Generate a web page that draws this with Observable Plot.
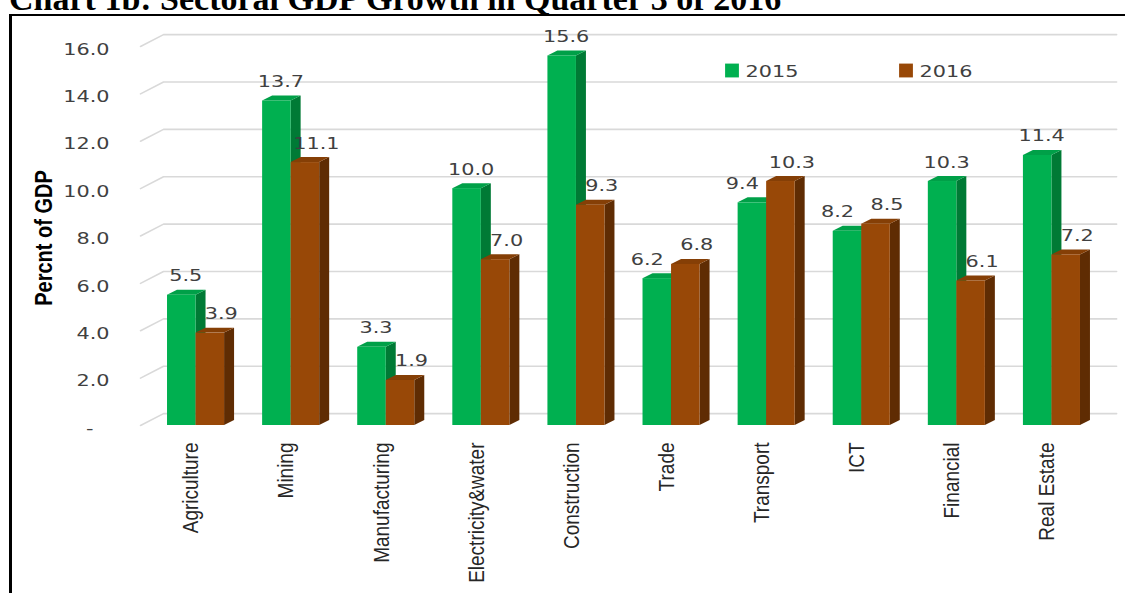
<!DOCTYPE html>
<html><head><meta charset="utf-8">
<script src="https://cdn.jsdelivr.net/npm/d3@7"></script>
<script src="https://cdn.jsdelivr.net/npm/@observablehq/plot@0.6"></script>
<style>
html,body{margin:0;padding:0;background:#fff;overflow:hidden;width:1125px;height:593px}
#title{height:14px;overflow:hidden;position:relative}
#title div{position:absolute;left:9px;top:-18px;font:bold 34px/34px "Liberation Serif","Times New Roman",serif;white-space:nowrap;color:#000}
#box{margin-left:9px;border-top:2px solid #000;border-left:3px solid #000;height:600px;width:1200px}
#box svg{display:block}
</style></head><body>
<div id="title"><div>Chart 1b: Sectoral GDP Growth in Quarter 3 of 2016</div></div>
<div id="box"></div>
<script>
const categories = ["Agriculture","Mining","Manufacturing","Electricity&water","Construction","Trade","Transport","ICT","Financial","Real Estate"];
const series = ["2015","2016"];
const values2015 = [5.5,13.7,3.3,10.0,15.6,6.2,9.4,8.2,10.3,11.4];
const values2016 = [3.9,11.1,1.9,7.0,9.3,6.8,10.3,8.5,6.1,7.2];
const yTicks = [0,2,4,6,8,10,12,14,16];
const yTickLabels = ["-","2.0","4.0","6.0","8.0","10.0","12.0","14.0","16.0"];
const yTitle = "Percnt of GDP";

// geometry / style constants
const BW = 0.3;                 // bar width (band units)
const DX = 0.105, DY = 0.21;    // bar depth
const WX = 0.242, WY = 0.5;     // back wall offset
const GX0 = -0.584, GX1 = 9.68; // gridline extent
const colors = {
  "2015": {front:"#00B050", side:"#007A35", top:"#00A048"},
  "2016": {front:"#984807", side:"#5F2C03", top:"#853F06"}
};
const numFont = {fontFamily:"DejaVu Sans, Verdana, sans-serif", fontSize:16, fill:"#404040"};

const bars = [];
categories.forEach((c,i)=>{
  bars.push({cat:c,i,series:"2015",value:values2015[i],x1:i-BW,x2:i,other:values2016[i]});
  bars.push({cat:c,i,series:"2016",value:values2016[i],x1:i,x2:i+BW,other:values2015[i]});
});
const sides = [], tops = [];
bars.forEach((b,k)=>{
  sides.push({id:k,series:b.series,x:b.x2,y1:0,y2:b.value});
  sides.push({id:k,series:b.series,x:b.x2+DX,y1:DY,y2:b.value+DY});
  tops.push({id:k,series:b.series,y:b.value,x1:b.x1,x2:b.x2});
  tops.push({id:k,series:b.series,y:b.value+DY,x1:b.x1+DX,x2:b.x2+DX});
});
const grid = [];
yTicks.forEach(t=>{
  grid.push({t,x:GX0,y:t});
  grid.push({t,x:GX0+WX,y:t+WY});
  grid.push({t,x:GX1,y:t+WY});
});
const tickRows = yTicks.map((t,i)=>({t,label:yTickLabels[i]}));

const barMarks = [];
series.forEach(s=>{
  barMarks.push(Plot.areaY(sides.filter(d=>d.series===s),{x:"x",y1:"y1",y2:"y2",z:"id",fill:colors[s].side}));
  barMarks.push(Plot.areaX(tops.filter(d=>d.series===s),{y:"y",x1:"x1",x2:"x2",z:"id",fill:colors[s].top}));
  barMarks.push(Plot.rect(bars.filter(d=>d.series===s),{x1:"x1",x2:"x2",y1:()=>0,y2:"value",fill:colors[s].front}));
});
const lbl = (filter,dx)=>Plot.text(bars,{filter,x:d=>(d.x1+d.x2)/2,y:"value",text:d=>d.value.toFixed(1),
  textAnchor:"middle",lineAnchor:"bottom",dy:-14,dx,ariaDescription:"num",...numFont});

const chart = Plot.plot({
  width:1113, height:577,
  marginLeft:136, marginRight:26, marginTop:30, marginBottom:168,
  x:{type:"linear",domain:[-0.5,9.5],axis:null},
  y:{type:"linear",domain:[0,16],axis:null},
  marks:[
    Plot.line(grid,{x:"x",y:"y",z:"t",stroke:"#D9D9D9",strokeWidth:1.6}),
    ...barMarks,
    lbl(d=>d.series==="2015" && d.value>=d.other, 4),
    lbl(d=>d.series==="2015" && d.value<d.other, -10),
    lbl(d=>d.series==="2016", 11),
    Plot.text(tickRows,{filter:d=>d.t!==0,y:"t",text:"label",frameAnchor:"left",textAnchor:"end",lineAnchor:"middle",dx:-39,dy:3,ariaDescription:"num",...numFont}),
    Plot.text(tickRows,{filter:d=>d.t===0,y:"t",text:"label",frameAnchor:"left",textAnchor:"end",lineAnchor:"middle",dx:-55,dy:3,ariaDescription:"num",...numFont}),
    Plot.text(categories,{x:(d,i)=>i,y:()=>0,text:d=>d,rotate:-90,textAnchor:"end",lineAnchor:"middle",dx:-5,dy:17,
      fontFamily:"Liberation Sans, Arial, sans-serif",fontSize:19,fill:"#262626",ariaDescription:"cat"}),
    Plot.text([yTitle],{frameAnchor:"left",text:d=>d,rotate:-90,textAnchor:"middle",lineAnchor:"middle",dx:-104,dy:2,fontWeight:"bold",
      fontFamily:"Liberation Sans, Arial, sans-serif",fontSize:20,fill:"#000",ariaDescription:"cat"}),
    Plot.dot([series[0]],{frameAnchor:"top-left",dx:583.5,dy:24,symbol:"square",r:7.8,fill:colors["2015"].front}),
    Plot.text([series[0]],{frameAnchor:"top-left",dx:597,dy:25,text:d=>d,textAnchor:"start",lineAnchor:"middle",ariaDescription:"num",...numFont}),
    Plot.dot([series[1]],{frameAnchor:"top-left",dx:757.5,dy:24,symbol:"square",r:7.8,fill:colors["2016"].front}),
    Plot.text([series[1]],{frameAnchor:"top-left",dx:771,dy:25,text:d=>d,textAnchor:"start",lineAnchor:"middle",ariaDescription:"num",...numFont})
  ]
});
// horizontal glyph stretch as in the reference rendering
function stretch(sel,sx,sy){
  chart.querySelectorAll(sel).forEach(t=>{
    const tr=t.getAttribute("transform");
    if(tr){ t.setAttribute("transform",tr+` scale(${sx},${sy})`); return; }
    const g=t.closest("g[text-anchor]");
    const a=g?g.getAttribute("text-anchor"):"middle";
    t.style.transformBox="fill-box";
    t.style.transformOrigin=a==="end"?"right center":a==="start"?"left center":"center center";
    t.style.transform=`scale(${sx},${sy})`;
  });
}
stretch('g[aria-description="num"] text',1.3,1);
stretch('g[aria-description="cat"] text',1,1.2);
document.getElementById("box").appendChild(chart);
</script>
</body></html>
